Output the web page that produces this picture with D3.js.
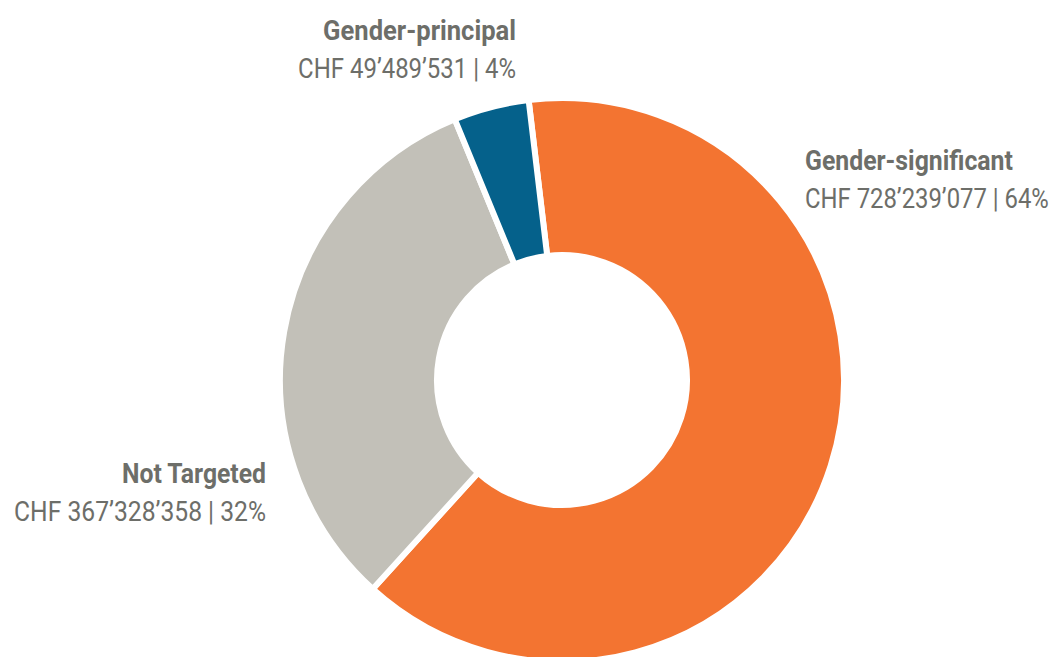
<!DOCTYPE html>
<html>
<head>
<meta charset="utf-8">
<script src="https://cdn.jsdelivr.net/npm/d3@7"></script>
<style>
  html, body { margin: 0; padding: 0; background: #fff; }
  svg { display: block; }
  .lbl-title { font-family: Roboto, "DejaVu Sans Condensed", sans-serif; font-weight: 700; font-size: 27px; fill: #6d6e69; }
  .lbl-value { font-family: Roboto, "DejaVu Sans Condensed", sans-serif; font-weight: 400; font-size: 28px; fill: #6d6e69; }
</style>
</head>
<body>
<div id="chart"></div>
<script>
// data
const categories = ["Gender-significant", "Not Targeted", "Gender-principal"];
const amounts = [728239077, 367328358, 49489531];
const shareLabels = ["64%", "32%", "4%"];
const colors = ["#f37431", "#c2c0b8", "#05618b"];

const width = 1058, height = 657;
const cx = 562, cy = 380;
const outerR = 282, innerR = 125;

// label placement (layout only): anchor point + target widths (condensed face)
const labelLayout = [
  { x: 805, y: 170, anchor: "start", wTitle: 208, wValue: 244 },
  { x: 266, y: 483, anchor: "end",   wTitle: 144, wValue: 252 },
  { x: 516, y: 40,  anchor: "end",   wTitle: 193, wValue: 218 }
];

const fmt = v => "CHF " + d3.format(",")(v).replace(/,/g, "\u2019");

const svg = d3.select("#chart").append("svg")
  .attr("width", width)
  .attr("height", height);

const g = svg.append("g").attr("transform", `translate(${cx},${cy})`);

const start = -6.8 * Math.PI / 180;
const pie = d3.pie().sort(null).value(d => d)
  .startAngle(start).endAngle(start + 2 * Math.PI);
const arc = d3.arc().innerRadius(innerR).outerRadius(outerR);

g.selectAll("path.slice")
  .data(pie(amounts))
  .join("path")
  .attr("class", "slice")
  .attr("d", arc)
  .attr("fill", (d, i) => colors[i])
  .attr("stroke", "#fff")
  .attr("stroke-width", 6)
  .attr("stroke-linejoin", "miter");

// squeeze a text horizontally around its anchor to the wanted width
function condense(sel, x, y, w) {
  const natural = sel.node().getComputedTextLength();
  const sx = Math.min(1, w / natural);
  sel.attr("x", 0).attr("y", 0)
    .attr("transform", `translate(${x},${y}) scale(${sx},1)`);
}

categories.forEach((name, i) => {
  const L = labelLayout[i];
  const grp = svg.append("g").attr("class", "label");

  const t1 = grp.append("text")
    .attr("class", "lbl-title")
    .attr("text-anchor", L.anchor)
    .text(name);
  condense(t1, L.x, L.y, L.wTitle);

  const t2 = grp.append("text")
    .attr("class", "lbl-value")
    .attr("text-anchor", L.anchor)
    .text(fmt(amounts[i]) + " | " + shareLabels[i]);
  condense(t2, L.x, L.y + 38, L.wValue);
});
</script>
</body>
</html>
